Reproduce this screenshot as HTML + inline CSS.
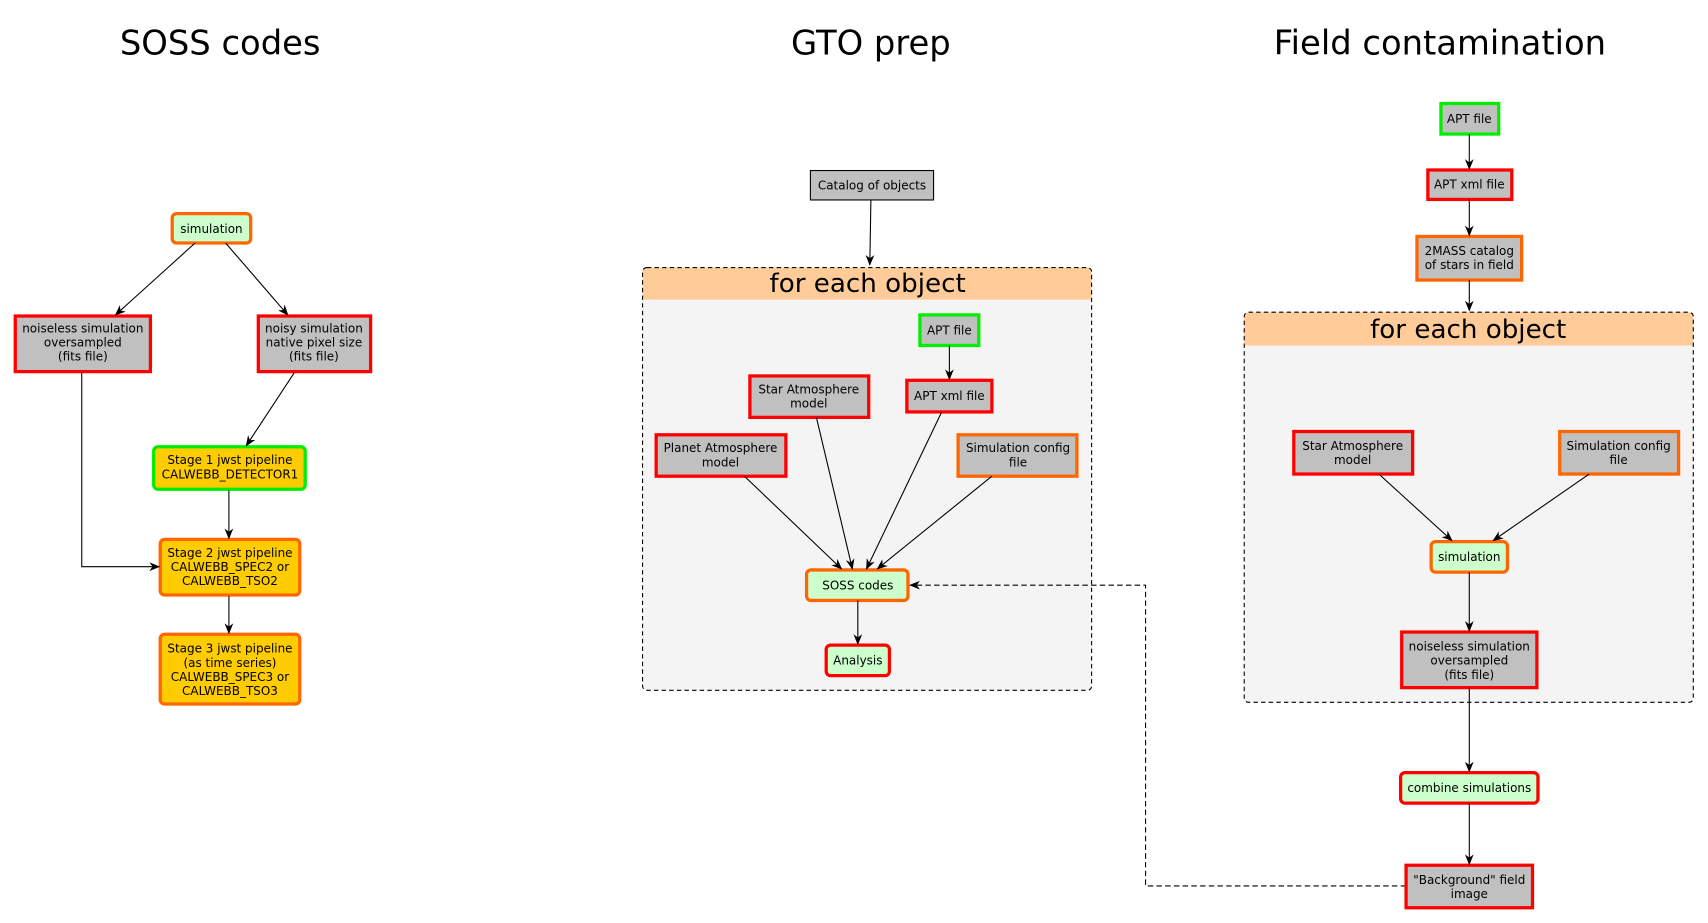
<!DOCTYPE html>
<html><head><meta charset="utf-8"><style>
html,body{margin:0;padding:0;background:#fff;width:1708px;height:923px;overflow:hidden}
svg{display:block}
text{font-family:"DejaVu Sans","Liberation Sans",sans-serif;fill:#000}
.t{font-size:11px;text-anchor:middle}
.h{font-size:31px;text-anchor:middle}
.c{font-size:24px;text-anchor:middle}
.g{fill:#c0c0c0}
.lg{fill:#ccffcc}
.y{fill:#ffcc00}
.r{stroke:#ff0000;stroke-width:3}
.o{stroke:#ff6600;stroke-width:3}
.gr{stroke:#00ee00;stroke-width:3}
.e{stroke:#000;stroke-width:1;fill:none;marker-end:url(#a)}
</style></head><body>
<svg width="1708" height="923" viewBox="0 0 1567 847" preserveAspectRatio="none">
<defs><marker id="a" markerWidth="10" markerHeight="10" refX="9" refY="5" orient="auto" markerUnits="userSpaceOnUse"><path d="M0,1 L10,5 L0,9 L3,5 z" fill="#000"/></marker></defs>

<text class="h" x="202" y="50">SOSS codes</text>
<text class="h" x="799" y="50">GTO prep</text>
<text class="h" x="1321" y="50">Field contamination</text>

<!-- SOSS codes -->
<rect x="158" y="196" width="72" height="27" rx="4" class="lg o"/>
<text class="t" x="194" y="214">simulation</text>
<rect x="14" y="290" width="124" height="51" class="g r"/>
<text class="t" x="76" y="305">noiseless simulation</text><text class="t" x="76" y="318">oversampled</text><text class="t" x="76" y="331">(fits file)</text>
<rect x="237" y="290" width="103" height="51" class="g r"/>
<text class="t" x="288" y="305">noisy simulation</text><text class="t" x="288" y="318">native pixel size</text><text class="t" x="288" y="331">(fits file)</text>
<rect x="141" y="410" width="139" height="39" rx="4" class="y gr"/>
<text class="t" x="211" y="426">Stage 1 jwst pipeline</text><text class="t" x="211" y="439">CALWEBB_DETECTOR1</text>
<rect x="147" y="495" width="128" height="51" rx="4" class="y o"/>
<text class="t" x="211" y="511">Stage 2 jwst pipeline</text><text class="t" x="211" y="524">CALWEBB_SPEC2 or</text><text class="t" x="211" y="537">CALWEBB_TSO2</text>
<rect x="147" y="582" width="128" height="64" rx="4" class="y o"/>
<text class="t" x="211" y="599">Stage 3 jwst pipeline</text><text class="t" x="211" y="612">(as time series)</text><text class="t" x="211" y="625">CALWEBB_SPEC3 or</text><text class="t" x="211" y="638">CALWEBB_TSO3</text>
<path class="e" d="M179,223 L106,289"/>
<path class="e" d="M207,223 L264,289"/>
<path class="e" d="M270,342 L226,409"/>
<path class="e" d="M75,342 L75,520 L146,520"/>
<path class="e" d="M210,450 L210,494"/>
<path class="e" d="M210,547 L210,581"/>

<!-- GTO prep -->
<rect x="743.5" y="156.5" width="113" height="27" class="g" stroke="#000" stroke-width="1"/>
<text class="t" x="800" y="174">Catalog of objects</text>
<path class="e" d="M799,184 L798,243"/>
<rect x="589.5" y="245.5" width="412" height="388" rx="4" fill="#f4f4f4"/>
<path d="M589.5,275 L589.5,250 Q589.5,245.5 594,245.5 L997,245.5 Q1001.5,245.5 1001.5,250 L1001.5,275 Z" fill="#ffcc99"/>
<rect x="589.5" y="245.5" width="412" height="388" rx="4" fill="none" stroke="#000" stroke-dasharray="4,3"/>
<text class="c" x="796" y="268">for each object</text>
<rect x="844" y="289" width="54" height="28" class="g gr"/>
<text class="t" x="871" y="307">APT file</text>
<rect x="832" y="349" width="78" height="29" class="g r"/>
<text class="t" x="871" y="367">APT xml file</text>
<rect x="688" y="345" width="109" height="38" class="g r"/>
<text class="t" x="742" y="361">Star Atmosphere</text><text class="t" x="742" y="374">model</text>
<rect x="602" y="399" width="119" height="38" class="g r"/>
<text class="t" x="661" y="415">Planet Atmosphere</text><text class="t" x="661" y="428">model</text>
<rect x="879" y="399" width="109" height="38" class="g o"/>
<text class="t" x="934" y="415">Simulation config</text><text class="t" x="934" y="428">file</text>
<rect x="740" y="523" width="93" height="28" rx="4" class="lg o"/>
<text class="t" x="787" y="541">SOSS codes</text>
<rect x="758" y="592" width="58" height="28" rx="4" class="lg r"/>
<text class="t" x="787" y="610">Analysis</text>
<path class="e" d="M871,317 L871,348"/>
<path class="e" d="M683,437 L772,522"/>
<path class="e" d="M749,383 L782,522"/>
<path class="e" d="M864,378 L795,522"/>
<path class="e" d="M910,437 L805,522"/>
<path class="e" d="M787,551 L787,591"/>
<path class="e" d="M1290,813 L1051,813 L1051,537 L835,537" stroke-dasharray="5,3"/>

<!-- Field contamination -->
<rect x="1322" y="95" width="53" height="28" class="g gr"/>
<text class="t" x="1348" y="113">APT file</text>
<rect x="1310" y="156" width="77" height="27" class="g r"/>
<text class="t" x="1348" y="173">APT xml file</text>
<rect x="1300" y="217" width="96" height="40" class="g o"/>
<text class="t" x="1348" y="234">2MASS catalog</text><text class="t" x="1348" y="247">of stars in field</text>
<path class="e" d="M1348,123 L1348,155"/>
<path class="e" d="M1348,183 L1348,216"/>
<path class="e" d="M1348,257 L1348,285"/>
<rect x="1141.5" y="286.5" width="412" height="358" rx="4" fill="#f4f4f4"/>
<path d="M1141.5,317 L1141.5,291 Q1141.5,286.5 1146,286.5 L1549,286.5 Q1553.5,286.5 1553.5,291 L1553.5,317 Z" fill="#ffcc99"/>
<rect x="1141.5" y="286.5" width="412" height="358" rx="4" fill="none" stroke="#000" stroke-dasharray="4,3"/>
<text class="c" x="1347" y="310">for each object</text>
<rect x="1187" y="396" width="109" height="39" class="g r"/>
<text class="t" x="1241" y="413">Star Atmosphere</text><text class="t" x="1241" y="426">model</text>
<rect x="1431" y="396" width="109" height="39" class="g o"/>
<text class="t" x="1485" y="413">Simulation config</text><text class="t" x="1485" y="426">file</text>
<rect x="1313" y="497" width="70" height="28" rx="4" class="lg o"/>
<text class="t" x="1348" y="515">simulation</text>
<rect x="1286" y="580" width="124" height="51" class="g r"/>
<text class="t" x="1348" y="597">noiseless simulation</text><text class="t" x="1348" y="610">oversampled</text><text class="t" x="1348" y="623">(fits file)</text>
<rect x="1285" y="709" width="126" height="28" rx="4" class="lg r"/>
<text class="t" x="1348" y="727">combine simulations</text>
<rect x="1290" y="794" width="116" height="39" class="g r"/>
<text class="t" x="1348" y="811">"Background" field</text><text class="t" x="1348" y="824">image</text>
<path class="e" d="M1265,435 L1332,496"/>
<path class="e" d="M1458,435 L1370,496"/>
<path class="e" d="M1348,525 L1348,579"/>
<path class="e" d="M1348,631 L1348,708"/>
<path class="e" d="M1348,737 L1348,793"/>
</svg>
</body></html>
